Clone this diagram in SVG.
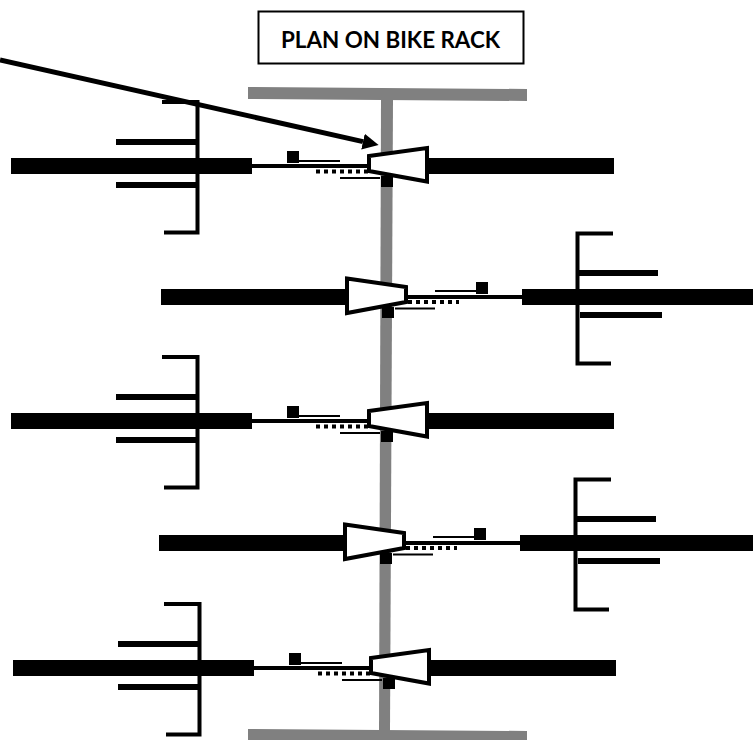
<svg xmlns="http://www.w3.org/2000/svg" width="753" height="740" viewBox="0 0 753 740">
<style>
.frame{fill:#808080}
.k{fill:#000}
.wedge{fill:#fff;stroke:#000;stroke-width:4;stroke-linejoin:miter}
.dots{stroke:#000;stroke-width:4;stroke-dasharray:4 4;fill:none}
.ln{stroke:#000;fill:none}
.title{fill:#fff;stroke:#000;stroke-width:2}
.t{font-family:"Lato","Liberation Sans",sans-serif;font-weight:700;font-size:22.4px;fill:#000}
</style>
<defs>
<marker id="head" markerUnits="userSpaceOnUse" markerWidth="18" markerHeight="18" refX="0" refY="9" orient="auto"><path d="M0 1L16 9L0 17Z" fill="#000"/></marker>
<g id="unitL">
<rect class="k" x="11" y="158" width="241" height="16"/>
<rect class="k" x="429" y="158" width="185" height="16"/>
<rect class="k" x="252" y="164" width="116" height="4"/>
<rect class="k" x="287" y="151" width="12" height="12"/>
<rect class="k" x="299" y="160" width="41" height="2"/>
<path class="dots" d="M316 171.500H368"/>
<rect class="k" x="340" y="177" width="40" height="2"/>
<rect class="k" x="381" y="176" width="12" height="11"/>
<path class="wedge" d="M369 156L427 148V181.500L369 171Z"/>
<path class="ln" stroke-width="4" d="M162 102H197.500V232.500H164"/>
<rect class="k" x="116" y="139" width="81" height="6"/>
<rect class="k" x="116" y="182" width="81" height="6"/>
</g>
<g id="unitR">
<rect class="k" x="161" y="289" width="186" height="16"/>
<rect class="k" x="522" y="289" width="235" height="16"/>
<rect class="k" x="407" y="295" width="115" height="4"/>
<rect class="k" x="476" y="282" width="12" height="12"/>
<rect class="k" x="435" y="290" width="41" height="2"/>
<path class="dots" d="M408 302H459"/>
<rect class="k" x="395" y="307.500" width="40" height="2"/>
<rect class="k" x="382" y="307" width="12" height="11"/>
<path class="wedge" d="M347 278.500L406 287V302L347 313Z"/>
<path class="ln" stroke-width="4" d="M613 233.500H577.500V363.500H611"/>
<rect class="k" x="578" y="270" width="80" height="6"/>
<rect class="k" x="580" y="312" width="82" height="6"/>
</g>
</defs>
<g id="frame">
<path class="frame" d="M248 87L527 89V101L248 99Z"/>
<path class="frame" d="M381 99H393L390 731H379Z"/>
<path class="frame" d="M248 729L527 731V740H248Z"/>
</g>
<g id="unit-1"><use href="#unitL"/></g>
<g id="unit-2"><use href="#unitR"/></g>
<g id="unit-3"><use href="#unitL" transform="translate(0 255)"/></g>
<g id="unit-4"><use href="#unitR" transform="translate(-2 246)"/></g>
<g id="unit-5"><use href="#unitL" transform="translate(2 502)"/></g>
<g id="title">
<rect class="title" x="258.500" y="11.500" width="265" height="52"/>
<text class="t" x="390.500" y="47.500" text-anchor="middle">PLAN ON BIKE RACK</text>
</g>
<g id="connectors">
<path class="ln" stroke-width="5" d="M0 60L363 141.600" marker-end="url(#head)"/>
</g>
</svg>
